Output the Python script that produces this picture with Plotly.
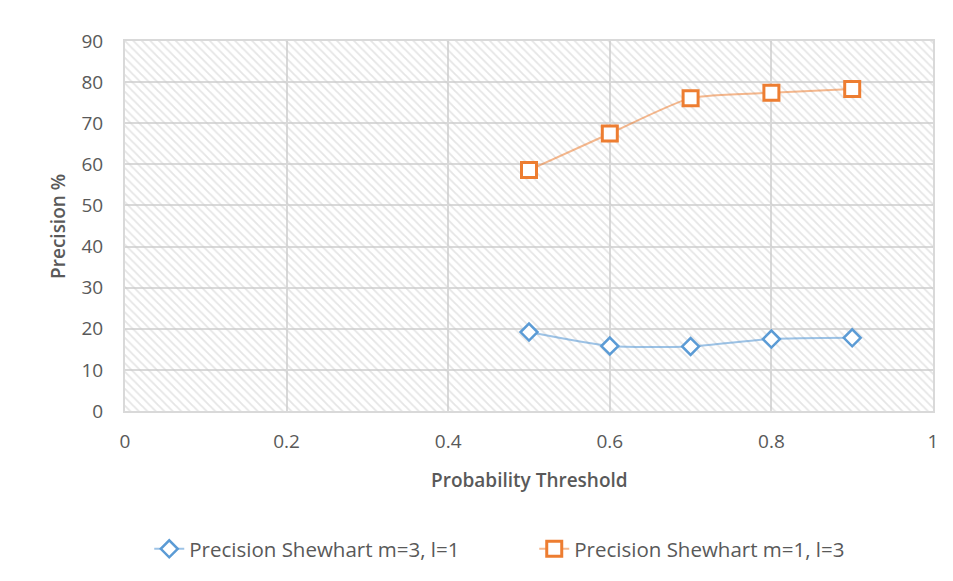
import plotly.graph_objects as go

# Probability thresholds and precision (%) for the two Shewhart settings
thresholds = [0.5, 0.6, 0.7, 0.8, 0.9]
precision_m3_l1 = [19.2, 15.8, 15.7, 17.5, 17.8]
precision_m1_l3 = [58.6, 67.5, 76.1, 77.4, 78.3]

series_names = ["Precision Shewhart m=3, l=1", "Precision Shewhart m=1, l=3"]

x_range = [0, 1]
y_range = [0, 90]
x_ticks = [0, 0.2, 0.4, 0.6, 0.8, 1]
x_tick_text = ["0", "0.2", "0.4", "0.6", "0.8", "1"]
y_ticks = list(range(0, 91, 10))

fig = go.Figure()

# hatched plot-area background
fig.add_trace(go.Scatter(
    x=[x_range[0], x_range[1], x_range[1], x_range[0], x_range[0]],
    y=[y_range[0], y_range[0], y_range[1], y_range[1], y_range[0]],
    mode="none", fill="toself", fillcolor="rgba(0,0,0,0)",
    fillpattern=dict(shape="\\", fgcolor="#cccccc", bgcolor="rgba(0,0,0,0)",
                     size=6, solidity=0.3),
    showlegend=False, hoverinfo="skip",
))

fig.add_trace(go.Scatter(
    x=thresholds, y=precision_m3_l1, name=series_names[0],
    mode="lines+markers",
    line=dict(color="rgba(91,155,213,0.6)", width=2, shape="spline", smoothing=0.6),
    marker=dict(symbol="diamond", size=13, color="white",
                line=dict(color="#5B9BD5", width=2.5)),
))
fig.add_trace(go.Scatter(
    x=thresholds, y=precision_m1_l3, name=series_names[1],
    mode="lines+markers",
    line=dict(color="rgba(237,125,49,0.55)", width=2, shape="spline", smoothing=0.6),
    marker=dict(symbol="square", size=15, color="white",
                line=dict(color="#ED7D31", width=3)),
))

tick_font = dict(family="Open Sans", size=19, color="#595959")

fig.update_xaxes(
    range=x_range, tickvals=x_ticks, ticktext=x_tick_text,
    showgrid=True, gridcolor="#d9d9d9", gridwidth=2,
    showline=True, linecolor="#d9d9d9", linewidth=2, mirror=True,
    zeroline=False, tickfont=tick_font, ticklabelstandoff=12,
)
fig.update_yaxes(
    range=y_range, tickvals=y_ticks,
    showgrid=True, gridcolor="#d9d9d9", gridwidth=2,
    showline=True, linecolor="#d9d9d9", linewidth=2, mirror=True,
    zeroline=False, tickfont=tick_font, ticklabelstandoff=16,
)

title_font = dict(family="Open Sans", size=19, color="#595959", weight=600)

fig.add_annotation(
    text="Probability Threshold", xref="paper", yref="paper",
    x=0.5, y=-0.186, showarrow=False, xanchor="center", yanchor="middle",
    font=title_font,
)
fig.add_annotation(
    text="Precision %", xref="paper", yref="paper",
    x=-0.083, y=0.5, showarrow=False, textangle=-90,
    xanchor="center", yanchor="middle",
    font=title_font,
)

fig.update_layout(
    width=953, height=581,
    margin=dict(l=125, r=20, t=41, b=170),
    paper_bgcolor="white", plot_bgcolor="white",
    showlegend=True,
    legend=dict(
        orientation="h", x=0.03, y=-0.373, xanchor="left", yanchor="middle",
        font=dict(family="Open Sans", size=20.5, color="#595959"),
        entrywidth=340, entrywidthmode="pixels",
    ),
)

fig.write_html("out.html")
